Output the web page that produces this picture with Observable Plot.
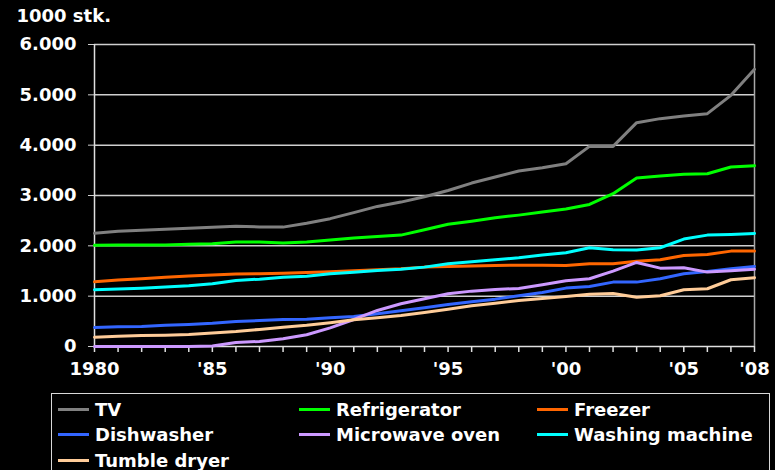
<!DOCTYPE html>
<html>
<head>
<meta charset="utf-8">
<script src="https://cdn.jsdelivr.net/npm/d3@7"></script>
<script src="https://cdn.jsdelivr.net/npm/@observablehq/plot@0.6"></script>
<style>
  html, body { margin: 0; padding: 0; background: #000; }
  body { width: 775px; height: 470px; overflow: hidden; position: relative; font-family: "DejaVu Sans", Verdana, sans-serif; }
  #legend { position: absolute; left: 51px; top: 393px; width: 719px; height: 100px; border: 1.5px solid #d8d8d8; box-sizing: border-box; }
  .item { position: absolute; height: 24px; display: flex; align-items: center; color: #fff; font-weight: bold; font-size: 18px; white-space: nowrap; }
  .sw { width: 31px; height: 3px; margin-right: 6px; }
</style>
</head>
<body>
<div id="chart"></div>
<div id="legend"></div>
<script>
const years = [1980,1981,1982,1983,1984,1985,1986,1987,1988,1989,1990,1991,1992,1993,1994,1995,1996,1997,1998,1999,2000,2001,2002,2003,2004,2005,2006,2007,2008];
const seriesNames = ["TV","Refrigerator","Freezer","Dishwasher","Microwave oven","Washing machine","Tumble dryer"];
const seriesColors = ["#808080","#00ff00","#ff6600","#3366ff","#cc99ff","#00ffff","#ffcc99"];

const tv = [2250,2290,2310,2330,2350,2370,2390,2375,2372,2450,2540,2660,2783,2869,2975,3100,3247,3366,3486,3552,3632,3976,3976,4447,4527,4580,4626,4990,5507];
const refrigerator = [2014,2015,2015,2015,2030,2040,2075,2075,2054,2075,2115,2154,2187,2213,2320,2430,2490,2560,2610,2670,2730,2823,3035,3346,3386,3420,3433,3565,3592];
const freezer = [1286,1320,1345,1375,1400,1420,1440,1445,1455,1470,1485,1505,1525,1545,1577,1590,1600,1610,1615,1615,1610,1643,1643,1696,1723,1809,1829,1895,1895];
const dishwasher = [378,390,398,420,437,460,497,515,537,540,570,597,650,710,769,835,888,941,1008,1074,1160,1193,1279,1279,1346,1445,1491,1544,1590];
const microwave = [0,0,0,0,0,10,80,100,153,233,370,537,716,849,948,1048,1100,1133,1153,1226,1306,1346,1498,1670,1557,1564,1478,1505,1537];
const washing = [1127,1140,1159,1180,1206,1246,1312,1338,1378,1398,1445,1475,1511,1537,1577,1643,1684,1723,1763,1816,1863,1962,1922,1915,1962,2134,2213,2227,2247];
const dryer = [185,205,219,225,239,270,298,340,384,420,470,530,570,616,676,742,809,861,915,954,994,1040,1054,980,1008,1127,1147,1326,1366];

const yTicks = [0,1000,2000,3000,4000,5000,6000];
const xLabelYears = [1980,1985,1990,1995,2000,2005,2008];
const xLabels = ["1980","'85","'90","'95","'00","'05","'08"];
const unitLabel = "1000 stk.";

const allSeries = [tv, refrigerator, freezer, dishwasher, microwave, washing, dryer];
const data = [];
allSeries.forEach((vals, s) => vals.forEach((v, i) => data.push({series: seriesNames[s], year: years[i], value: v})));

const fmt = d3.formatLocale({decimal: ",", thousands: ".", grouping: [3], currency: ["", ""]}).format(",");
const xLabelMap = new Map(xLabelYears.map((y, i) => [y, xLabels[i]]));

const chart = Plot.plot({
  width: 775,
  height: 396,
  marginTop: 44,
  marginLeft: 94,
  marginRight: 21,
  marginBottom: 50,
  style: {background: "#000", color: "#fff", fontFamily: "DejaVu Sans, Verdana, sans-serif", fontWeight: "bold", fontSize: "18px", overflow: "visible"},
  x: {domain: [1980, 2008], label: null},
  y: {domain: [0, 6000], label: null},
  color: {domain: seriesNames, range: seriesColors},
  marks: [
    Plot.ruleY(yTicks.filter(d => d > 0), {stroke: "#cfcfcf", strokeWidth: 1.5}),
    Plot.ruleX([2008], {stroke: "#a8a8a8", strokeWidth: 1.5}),
    Plot.axisY({ticks: yTicks, tickFormat: fmt, tickSize: 6, tickPadding: 12, stroke: "#cfcfcf", fill: "#fff", label: null}),
    Plot.axisX({ticks: years, tickFormat: () => "", tickSize: 6, stroke: "#e0e0e0", strokeWidth: 1.5, label: null}),
    Plot.axisX({ticks: xLabelYears, tickFormat: d => xLabelMap.get(d), tickSize: 0, tickPadding: 16, fill: "#fff", label: null}),
    Plot.ruleX([1980], {stroke: "#e0e0e0", strokeWidth: 1.5}),
    Plot.ruleY([0], {stroke: "#e0e0e0", strokeWidth: 1.5}),
    Plot.line(data, {x: "year", y: "value", z: "series", stroke: "series", strokeWidth: 3, strokeLinejoin: "round"}),
    Plot.text([unitLabel], {frameAnchor: "top-left", dx: -78, dy: -35, lineAnchor: "top", textAnchor: "start", fill: "#fff", fontSize: 18, fontWeight: "bold"})
  ]
});
document.getElementById("chart").appendChild(chart);

const legend = document.getElementById("legend");
const colX = [6, 247, 485];
const rowY = [3, 28, 54];
seriesNames.forEach((name, i) => {
  const item = document.createElement("div");
  item.className = "item";
  item.style.left = colX[i % 3] + "px";
  item.style.top = rowY[Math.floor(i / 3)] + "px";
  const sw = document.createElement("span");
  sw.className = "sw";
  sw.style.background = seriesColors[i];
  const t = document.createElement("span");
  t.textContent = name;
  item.appendChild(sw);
  item.appendChild(t);
  legend.appendChild(item);
});
</script>
</body>
</html>
